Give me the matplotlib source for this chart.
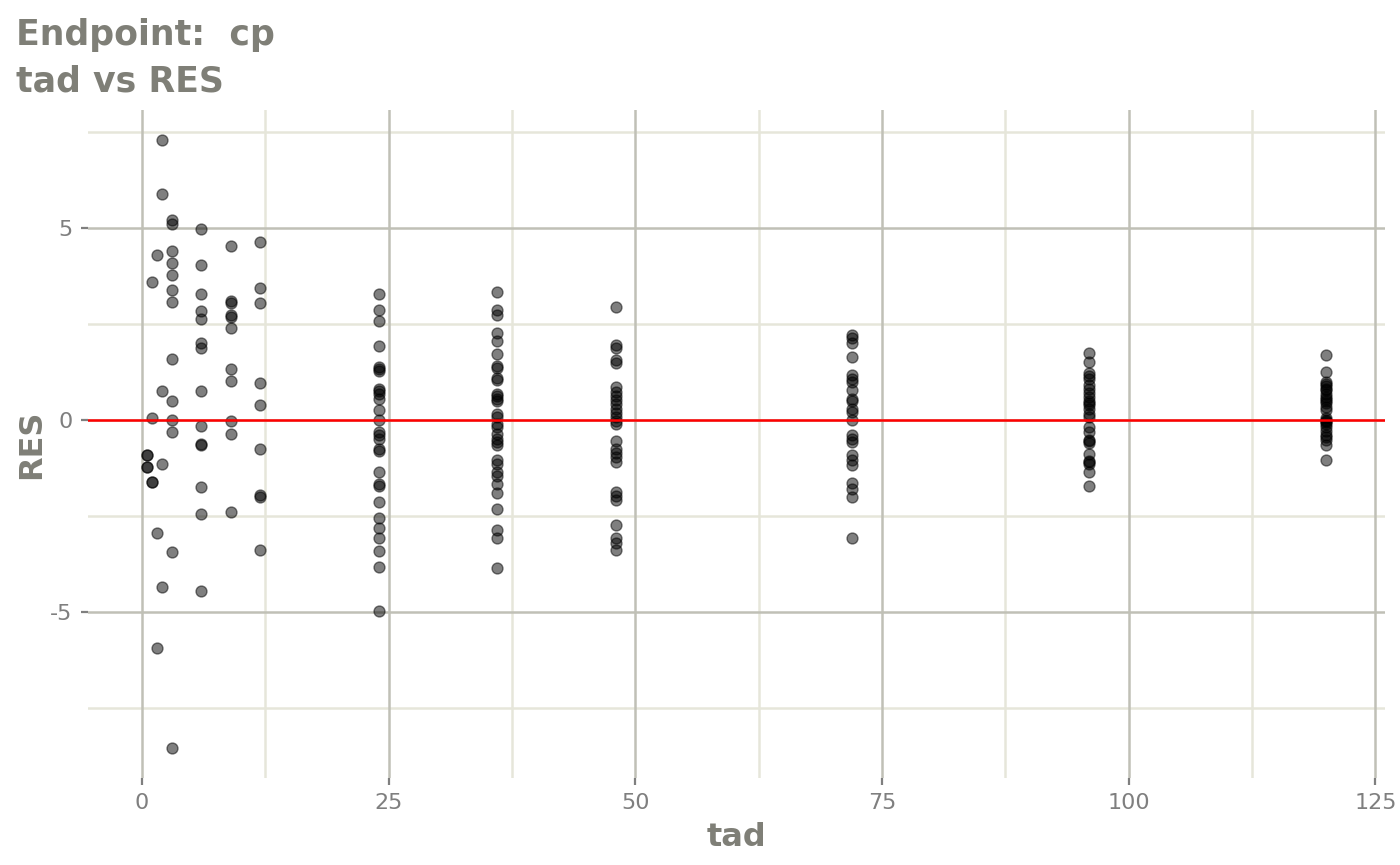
import matplotlib
matplotlib.use("Agg")
import matplotlib.pyplot as plt
import numpy as np

# ---- data: RES values per time after dose (tad) ----
tad_values = [0.5, 1, 1.5, 2, 3, 6, 9, 12, 24, 36, 48, 72, 96, 120]
res_t0_5 = [-0.91, -0.91, -1.23, -1.23]
res_t1 = [3.61, 0.07, -1.62, -1.62]
res_t1_5 = [4.30, -2.93, -5.93]
res_t2 = [7.29, 5.88, 0.76, -1.13, -4.34]
res_t3 = [5.21, 5.10, 4.40, 4.10, 3.79, 3.39, 3.08, 1.59, 0.49, 0.0, -0.31, -3.43, -8.53]
res_t6 = [4.97, 4.04, 3.30, 2.85, 2.63, 2.01, 1.88, 0.76, -0.15, -0.61, -0.65, -1.75, -2.45, -4.45]
res_t9 = [4.54, 3.10, 3.06, 2.73, 2.69, 2.40, 1.34, 1.03, -0.03, -0.35, -2.40]
res_t12 = [4.64, 3.45, 3.05, 0.96, 0.39, -0.76, -1.94, -2.00, -3.39]
res_t24 = [3.30, 2.86, 2.59, 1.92, 1.39, 1.33, 1.28, 0.82, 0.76, 0.69, 0.54, 0.26, 0.0,
           -0.30, -0.39, -0.48, -0.76, -0.80, -1.35, -1.65, -1.72, -2.13, -2.56, -2.82,
           -3.08, -3.40, -3.82, -4.97]
res_t36 = [3.34, 2.88, 2.73, 2.26, 2.06, 1.72, 1.42, 1.36, 1.10, 1.06, 0.69, 0.62, 0.56,
           0.50, 0.17, 0.09, -0.09, -0.17, -0.35, -0.48, -0.56, -0.65, -1.04, -1.13,
           -1.35, -1.46, -1.65, -1.89, -2.32, -2.86, -3.08, -3.85]
res_t48 = [2.95, 1.95, 1.87, 1.56, 1.48, 0.87, 0.74, 0.63, 0.52, 0.42, 0.30, 0.19, 0.09,
           -0.02, -0.10, -0.54, -0.76, -0.85, -0.95, -1.08, -1.87, -1.98, -2.07, -2.73,
           -3.08, -3.21, -3.39]
res_t72 = [2.21, 2.15, 2.00, 1.65, 1.17, 1.08, 1.00, 0.78, 0.56, 0.50, 0.30, 0.22, 0.0,
           -0.39, -0.48, -0.56, -0.91, -1.04, -1.17, -1.63, -1.78, -2.00, -3.08]
res_t96 = [1.75, 1.52, 1.22, 1.15, 1.08, 0.91, 0.82, 0.72, 0.61, 0.50, 0.45, 0.39, 0.28,
           0.17, 0.09, -0.17, -0.30, -0.52, -0.55, -0.59, -0.87, -1.06, -1.10, -1.13,
           -1.35, -1.71]
res_t120 = [1.71, 1.26, 1.00, 0.95, 0.89, 0.82, 0.78, 0.68, 0.60, 0.56, 0.50, 0.45, 0.35,
            0.26, 0.07, 0.0, -0.02, -0.05, -0.10, -0.19, -0.28, -0.39, -0.45, -0.52,
            -0.65, -1.04]
res_groups = [res_t0_5, res_t1, res_t1_5, res_t2, res_t3, res_t6, res_t9, res_t12,
              res_t24, res_t36, res_t48, res_t72, res_t96, res_t120]

x_ticks = [0, 25, 50, 75, 100, 125]
x_minor = [12.5, 37.5, 62.5, 87.5, 112.5]
y_ticks = [-5, 0, 5]
y_minor = [-7.5, -2.5, 2.5, 7.5]

title_line1 = "Endpoint:  cp"
title_line2 = "tad vs RES"
x_label = "tad"
y_label = "RES"

# ---- build point arrays ----
xs = np.concatenate([[t] * len(g) for t, g in zip(tad_values, res_groups)])
ys = np.concatenate(res_groups)

W, H = 1400, 865
fig = plt.figure(figsize=(W / 100, H / 100), dpi=100)
ax = fig.add_axes([88 / W, (H - 778) / H, (1385 - 88) / W, (778 - 110) / H])

text_gray = "#7F7F77"
major_col = "#C0C0B6"
minor_col = "#E6E6DA"

# limits with ggplot-style 5% expansion
xr = xs.max() - xs.min()
yr = ys.max() - ys.min()
ax.set_xlim(xs.min() - 0.05 * xr, xs.max() + 0.05 * xr)
ax.set_ylim(ys.min() - 0.05 * yr, ys.max() + 0.05 * yr)

for v in x_minor:
    ax.axvline(v, color=minor_col, lw=1.8, zorder=0)
for v in y_minor:
    ax.axhline(v, color=minor_col, lw=1.8, zorder=0)
for v in x_ticks:
    ax.axvline(v, color=major_col, lw=1.8, zorder=0.5)
for v in y_ticks:
    ax.axhline(v, color=major_col, lw=1.8, zorder=0.5)

ax.scatter(xs, ys, s=62, facecolor=(0, 0, 0, 0.5), edgecolor=(0, 0, 0, 0.5),
           linewidths=1.0, zorder=3)
ax.axhline(0, color="#FF0000", lw=1.8, zorder=4)

for sp in ax.spines.values():
    sp.set_visible(False)

ax.set_xticks(x_ticks)
ax.set_yticks(y_ticks)
ax.set_xticklabels([str(v) for v in x_ticks])
ax.set_yticklabels([str(v) for v in y_ticks])
ax.tick_params(axis="both", colors="#7F7F7F", labelcolor="#7F7F7F",
               labelsize=16, length=5, width=1.6, pad=6)

ax.set_xlabel(x_label, fontsize=23, fontweight="bold", color=text_gray, labelpad=6)
ax.set_ylabel(y_label, fontsize=23, fontweight="bold", color=text_gray, labelpad=2)

fig.text(16 / W, 1 - 45 / H, title_line1, fontsize=25, fontweight="bold",
         color=text_gray, ha="left", va="baseline")
fig.text(16 / W, 1 - 92 / H, title_line2, fontsize=25, fontweight="bold",
         color=text_gray, ha="left", va="baseline")

fig.savefig("out.png", dpi=100, facecolor="white")
